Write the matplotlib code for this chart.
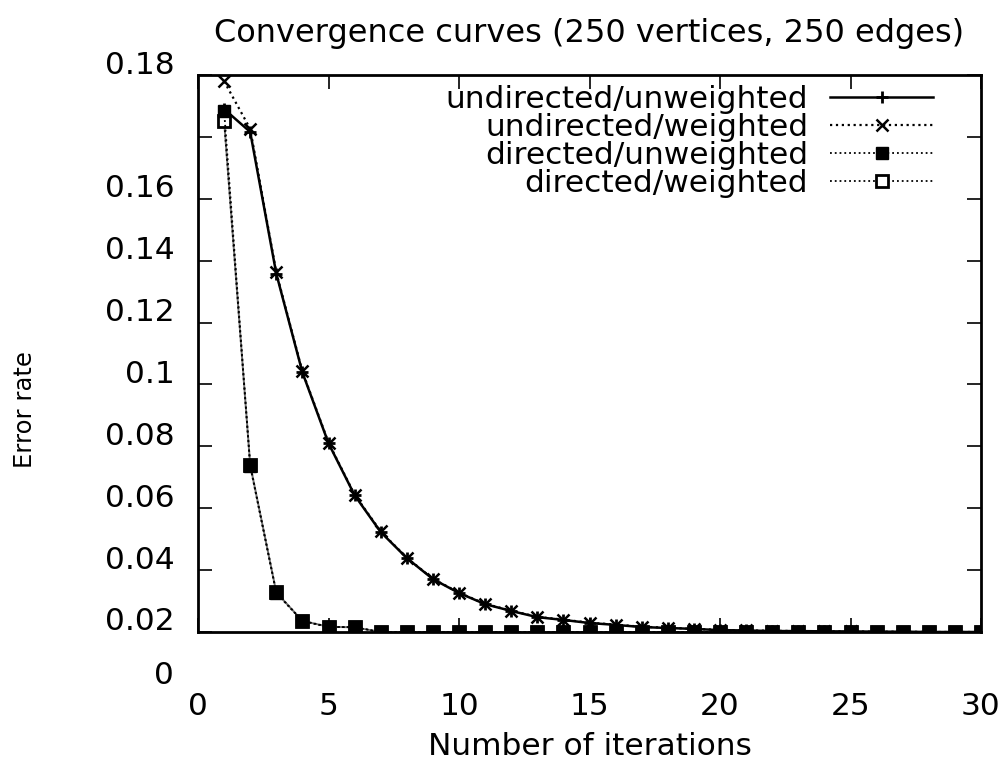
import matplotlib
matplotlib.use("Agg")
import matplotlib.pyplot as plt
import matplotlib.transforms as mtransforms
import numpy as np

# data (y in the scale of the printed labels)
iterations = list(range(1, 31))
undirected_unweighted = [0.189, 0.1816, 0.1358, 0.1039, 0.0810, 0.0642, 0.0523, 0.0439,
                         0.0371, 0.0326, 0.0290, 0.0268, 0.0248, 0.0239, 0.0229, 0.0223,
                         0.0216, 0.0213, 0.0210, 0.0206, 0.0205, 0.0203, 0.0203, 0.0202,
                         0.0202, 0.0201, 0.0201, 0.0200, 0.0200, 0.0200]
undirected_weighted = [0.198, 0.1826, 0.1362, 0.1042, 0.0812, 0.0644, 0.0525, 0.0440,
                       0.0372, 0.0327, 0.0291, 0.0269, 0.0249, 0.0240, 0.0230, 0.0224,
                       0.0217, 0.0214, 0.0210, 0.0207, 0.0205, 0.0204, 0.0203, 0.0202,
                       0.0202, 0.0201, 0.0201, 0.0200, 0.0200, 0.0200]
directed_unweighted = [0.1885, 0.0736, 0.0326, 0.0235, 0.0216, 0.0216] + [0.020] * 24
directed_weighted = [0.1852, 0.0740, 0.0328, 0.0236, 0.0217, 0.0215] + [0.020] * 24

ytick_vals = [0.02, 0.04, 0.06, 0.08, 0.10, 0.12, 0.14, 0.16, 0.18, 0.20]
ytick_labels = ["0.02", "0.04", "0.06", "0.08", "0.1", "0.12", "0.14", "0.16", "", "0.18"]
xtick_vals = [0, 5, 10, 15, 20, 25, 30]

fig = plt.figure(figsize=(10.02, 7.66), dpi=100)
ax = fig.add_axes([198 / 1002, 134 / 766, 783 / 1002, 557 / 766])

ax.plot(iterations, undirected_unweighted, "-", color="black", lw=1.8,
        marker="+", ms=9, mew=2, label="undirected/unweighted", zorder=3)
ax.plot(iterations, undirected_weighted, ":", color="black", lw=1.6,
        marker="x", ms=8, mew=1.8, label="undirected/weighted", zorder=3)
ax.plot(iterations, directed_unweighted, ":", color="black", lw=1.3,
        marker="s", ms=9, mfc="black", label="directed/unweighted", zorder=5)
ax.plot(iterations, directed_weighted, ":", color="black", lw=1.3,
        marker="s", ms=8, mfc="white", mew=2, label="directed/weighted", zorder=4)
# the directed curve shows as a thin grey solid line in the reference
ax.plot(iterations, directed_weighted, "-", color="0.45", lw=1.4, zorder=1)

ax.set_xlim(0, 30)
ax.set_ylim(0.02, 0.20)
ax.set_xticks(xtick_vals)
ax.set_yticks(ytick_vals)
ax.set_yticklabels(ytick_labels)

ax.tick_params(direction="in", top=True, right=True, length=10, width=1.2,
               labelsize=22.5)
ax.tick_params(axis="x", pad=43)
ax.tick_params(axis="y", pad=17)
for sp in ax.spines.values():
    sp.set_linewidth(2)

# y labels sit a bit above their ticks in the reference
shift = mtransforms.ScaledTranslation(0, 13 / 100, fig.dpi_scale_trans)
for lab in ax.get_yticklabels():
    lab.set_transform(lab.get_transform() + shift)

ax.text(-24 / 783, 0.0061, "0", transform=ax.get_yaxis_transform(),
        ha="right", va="center", fontsize=22.5, clip_on=False)

ax.set_title("Convergence curves (250 vertices, 250 edges)", fontsize=23, pad=24)
ax.set_xlabel("Number of iterations", fontsize=22.5, labelpad=8)
ax.set_ylabel("Error rate", fontsize=17.5)
ax.yaxis.set_label_coords(-0.206, 0.40)

ax.legend(loc="upper right", frameon=False, markerfirst=False, fontsize=22.5,
          handlelength=3.3, handletextpad=0.7, labelspacing=-0.03,
          borderaxespad=0.0, bbox_to_anchor=(0.955, 1.005))

fig.savefig("out.png", dpi=100)
